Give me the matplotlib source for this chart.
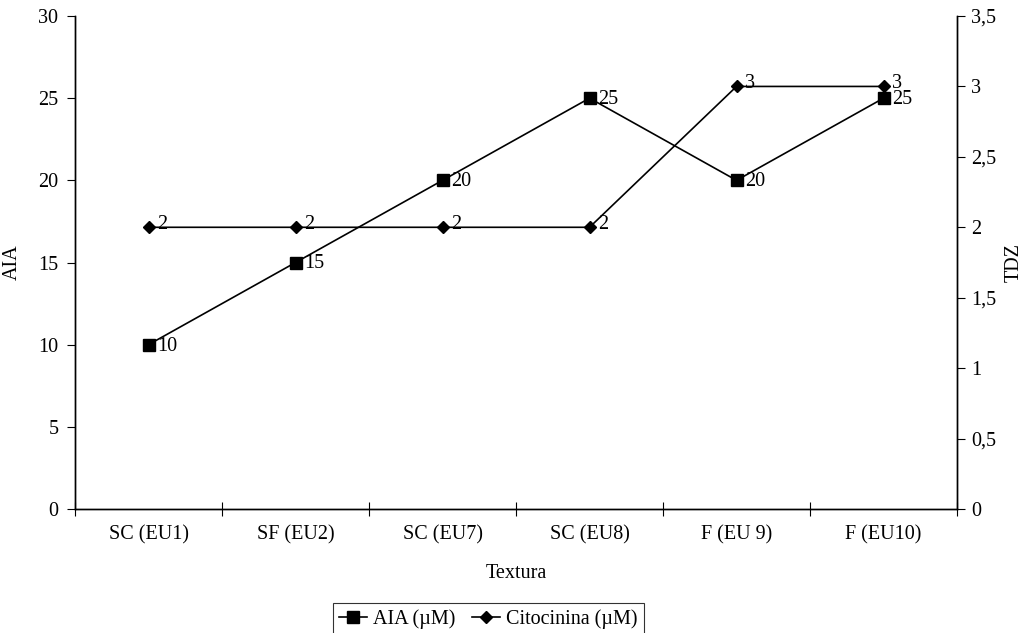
import numpy as np
import matplotlib.pyplot as plt
from matplotlib.ticker import FixedLocator, FuncFormatter

plt.rcParams['font.family'] = ['Liberation Serif', 'DejaVu Serif']
plt.rcParams['font.size'] = 14.5

categorias = ['SC (EU1)', 'SF (EU2)', 'SC (EU7)', 'SC (EU8)', 'F (EU 9)', 'F (EU10)']
aia = [10, 15, 20, 25, 20, 25]
citocinina = [2, 2, 2, 2, 3, 3]

fig = plt.figure(figsize=(10.25, 6.33), dpi=100)
ax = fig.add_axes([0.0732, 0.1959, 0.8605, 0.7788])
ax2 = ax.twinx()

x = np.arange(len(categorias)) + 0.5

# series
l1, = ax.plot(x, aia, color='black', lw=1.2, marker='s', ms=8, label='AIA (µM)')
l2, = ax2.plot(x, citocinina, color='black', lw=1.2, marker='D', ms=6, label='Citocinina (µM)')

# data labels
for xi, v in zip(x, aia):
    ax.annotate(str(v), (xi, v), xytext=(6, -1), textcoords='offset points',
                va='center', ha='left')
for xi, v in zip(x, citocinina):
    ax2.annotate(str(v), (xi, v), xytext=(6, 2), textcoords='offset points',
                 va='center', ha='left')

ax.set_xlim(0, len(categorias))
ax.set_ylim(0, 30)
ax2.set_ylim(0, 3.5)
ax.set_yticks(np.arange(0, 31, 5))
ax2.set_yticks(np.arange(0, 3.51, 0.5))
ax2.yaxis.set_major_formatter(FuncFormatter(lambda v, p: ('%g' % v).replace('.', ',')))

ax.xaxis.set_major_locator(FixedLocator(np.arange(0, len(categorias) + 1)))
ax.xaxis.set_major_formatter(FuncFormatter(lambda v, p: ''))
ax.xaxis.set_minor_locator(FixedLocator(x))
ax.set_xticklabels(categorias, minor=True)
ax.tick_params(axis='x', which='major', direction='inout', length=10, width=0.8)
ax.tick_params(axis='x', which='minor', length=0, pad=12)
ax.tick_params(axis='y', direction='out', length=6, width=0.8, pad=6)
ax2.tick_params(axis='y', direction='out', length=6, width=0.8, pad=4)

for a in (ax, ax2):
    a.spines['top'].set_visible(False)
    for s in ('left', 'right', 'bottom'):
        a.spines[s].set_linewidth(1.0)

ax.set_xlabel('Textura', labelpad=14)
ax.set_ylabel('AIA', labelpad=12)
ax2.set_ylabel('TDZ', rotation=90, labelpad=6)

leg = fig.legend([l1, l2], ['AIA (µM)', 'Citocinina (µM)'], loc='center',
                 bbox_to_anchor=(0.4765, 0.022), ncol=2, frameon=True, fancybox=False,
                 edgecolor='black', handlelength=1.4, handletextpad=0.3,
                 columnspacing=0.8, borderpad=0.3)
leg.get_frame().set_linewidth(0.8)

fig.savefig('out.png', dpi=100)
